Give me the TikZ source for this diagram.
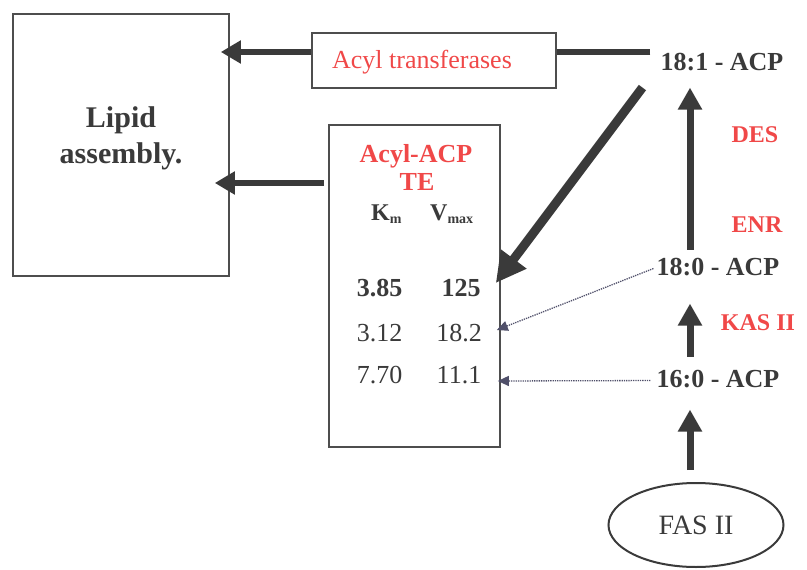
\documentclass[tikz,border=0pt]{standalone}
\usepackage{fontspec}
\setmainfont{Liberation Serif}
\usetikzlibrary{arrows.meta,shapes.geometric}
\definecolor{ink}{HTML}{3A3A3A}
\definecolor{enz}{HTML}{F04848}
\definecolor{dotink}{HTML}{50506A}

\begin{document}
\begin{tikzpicture}[x=1pt,y=-1pt,
  every node/.style={inner sep=0pt, text=ink},
  frame/.style={draw=ink!90, line width=1.6pt},
  lbl/.style={anchor=base, font=\fontsize{26}{30}\selectfont\bfseries},
  enzyme/.style={anchor=base, text=enz, font=\fontsize{24}{28}\selectfont\bfseries},
  val/.style={anchor=base, font=\fontsize{26}{30}\selectfont},
  bar/.style={draw=ink, line width=6pt},
  fatarrow/.style={draw=ink, line width=6pt, -{Triangle[length=20pt,width=22pt]}},
  diagarrow/.style={draw=ink, line width=9pt, -{Triangle[length=30pt,width=30pt]}},
  uparrow/.style={draw=ink, line width=7pt, -{Triangle[length=22pt,width=23pt]}},
  dotarrow/.style={draw=dotink, line width=1.3pt, densely dotted, -{Triangle[length=11pt,width=10pt]}}
]
\useasboundingbox (0,0) rectangle (807,570);

% Lipid assembly box
\node[frame, minimum width=216pt, minimum height=262pt] (lipid) at (121,145) {};
\node[align=center, font=\fontsize{30}{36}\selectfont\bfseries] (lipidtext) at (121,138) {Lipid\\assembly.};

% Acyl transferases box
\node[frame, minimum width=244pt, minimum height=55pt] (at) at (434,60.5) {};
\node[anchor=base, text=enz, font=\fontsize{26}{30}\selectfont] (attext) at (422,68) {Acyl transferases};

% Thioesterase box and its kinetic table
\node[frame, minimum width=171pt, minimum height=322pt] (te) at (414.5,286) {};
\node[anchor=base, text=enz, font=\fontsize{26}{30}\selectfont\bfseries] (tename) at (416,162) {Acyl-ACP};
\node[anchor=base, text=enz, font=\fontsize{26}{30}\selectfont\bfseries] (tesub) at (417,190) {TE};
\node[anchor=base west, font=\fontsize{24}{28}\selectfont\bfseries] (km) at (371,220)
  {K\raisebox{-3pt}{\fontsize{14}{14}\selectfont m}};
\node[anchor=base west, font=\fontsize{24}{28}\selectfont\bfseries] (vmax) at (430,220)
  {V\raisebox{-3pt}{\fontsize{14}{14}\selectfont max}};
\node[val, font=\fontsize{26}{30}\selectfont\bfseries] (k1) at (379.5,296) {3.85};
\node[val, font=\fontsize{26}{30}\selectfont\bfseries] (v1) at (461,296) {125};
\node[val] (k2) at (379.5,341) {3.12};
\node[val] (v2) at (459,341) {18.2};
\node[val] (k3) at (379.5,383) {7.70};
\node[val] (v3) at (459,383) {11.1};

% Acyl-ACP species and enzymes
\node[lbl] (acp181) at (722,70) {18:1 - ACP};
\node[lbl] (acp180) at (718,275) {18:0 - ACP};
\node[lbl] (acp160) at (718,387) {16:0 - ACP};
\node[enzyme] (des) at (755,142) {DES};
\node[enzyme] (enr) at (757,232) {ENR};
\node[enzyme] (kas) at (758,330) {KAS II};
\node[ellipse, draw=ink, line width=2pt, minimum width=175pt, minimum height=84pt,
      font=\fontsize{28}{32}\selectfont] (fas) at (696,525) {FAS II};

% Transfer of 18:1 to lipid assembly
\coordinate (atright) at ([yshift=8.5pt]at.east);
\draw[bar] ([xshift=-10pt]acp181.west |- atright) -- (atright);
\draw[fatarrow, shorten >=-9pt] ([yshift=8.5pt]at.west) -- ([yshift=93pt]lipid.east);
\draw[fatarrow, shorten >=-15pt] ([xshift=-4pt,yshift=103pt]te.west) -- ([yshift=-38pt]lipid.east);

% Substrates of the thioesterase
\draw[diagarrow] ([xshift=-18pt,yshift=-17pt]acp181.south west) -- ([xshift=-5pt,yshift=3pt]te.east);
\draw[dotarrow] ([xshift=-3pt,yshift=-2pt]acp180.west) -- ([xshift=-4pt,yshift=-44pt]te.east);
\draw[dotarrow] ([xshift=-6pt,yshift=-2pt]acp160.west) -- ([xshift=-3pt,yshift=-95pt]te.east);

% Elongation and desaturation steps
\draw[uparrow, shorten <=12pt, shorten >=22pt] (fas.north -| 690,0) -- (acp160.south -| 690,0);
\draw[uparrow, shorten <=13pt, shorten >=28pt] (acp160.north -| 690,0) -- (acp180.south -| 690,0);
\draw[uparrow, shorten <=8pt, shorten >=17pt] (acp180.north -| 690,0) -- (acp181.south -| 690,0);
\end{tikzpicture}
\end{document}
